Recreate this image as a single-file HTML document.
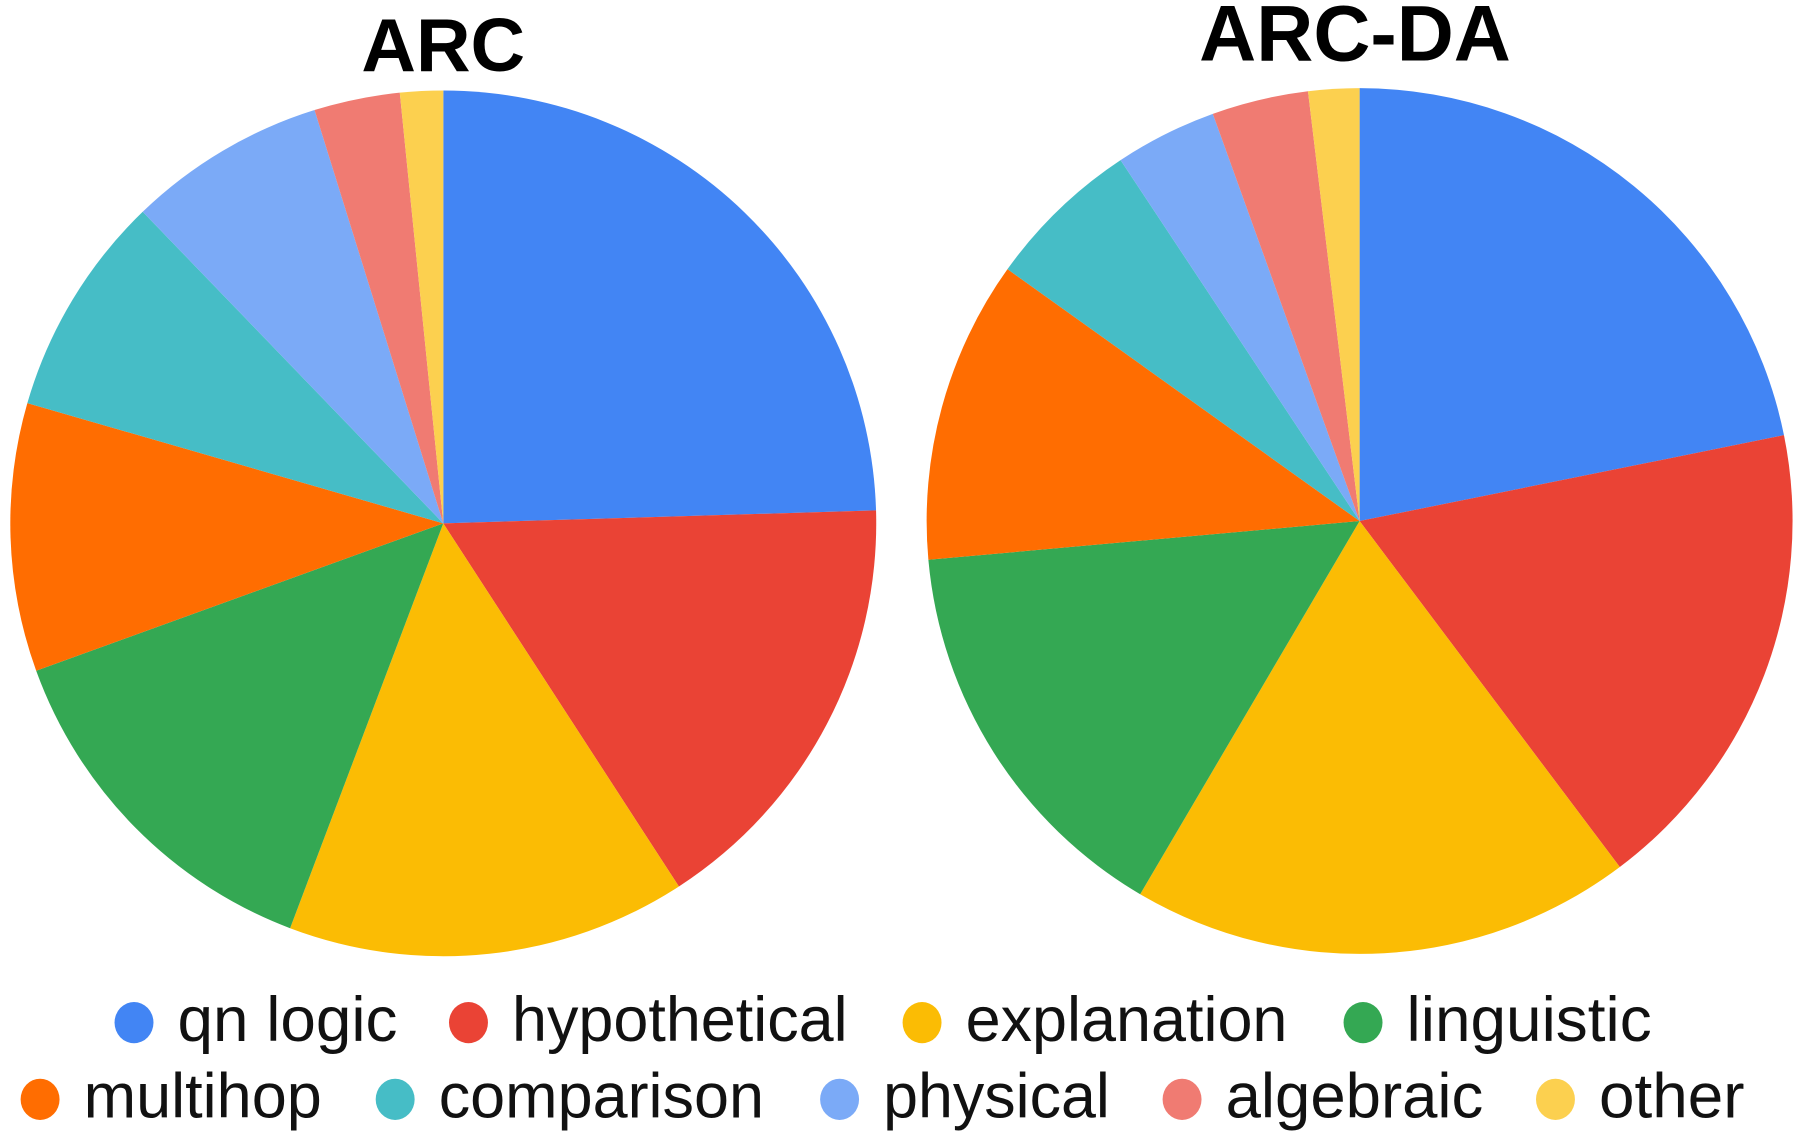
<!DOCTYPE html>
<html><head><meta charset="utf-8"><style>
html,body{margin:0;padding:0;background:#fff;}
svg{display:block;}
</style></head><body>
<svg id="chart" width="1796" height="1136" viewBox="0 0 1568 992" preserveAspectRatio="none" xmlns="http://www.w3.org/2000/svg">
<text x="387" y="62" text-anchor="middle" font-family="Liberation Sans, sans-serif" font-weight="bold" font-size="66" fill="#000">ARC</text>
<text x="1183" y="53" text-anchor="middle" font-family="Liberation Sans, sans-serif" font-weight="bold" font-size="69" fill="#000">ARC-DA</text>
<g id="pies"></g>
<g id="legend"></g>
</svg>
<script>
const categories = ["qn logic","hypothetical","explanation","linguistic","multihop","comparison","physical","algebraic","other"];
const arcValues = [24.5, 16.3, 14.9, 13.7, 10.0, 8.3, 7.4, 3.2, 1.6];
const arcDaValues = [21.8, 17.9, 18.7, 15.1, 11.3, 5.8, 3.8, 3.6, 1.9];
const colors = ["#4285f4","#ea4335","#fbbc04","#34a853","#ff6d01","#46bdc6","#7baaf7","#f07b72","#fcd04f"];
const NS = "http://www.w3.org/2000/svg";
function drawPie(values, cx, cy, r, name){
  const g = document.getElementById('pies');
  const total = values.reduce((a,b)=>a+b,0);
  let a0 = 0;
  values.forEach((v,i)=>{
    const a1 = a0 + v/total*2*Math.PI;
    const x0 = cx + r*Math.sin(a0), y0 = cy - r*Math.cos(a0);
    const x1 = cx + r*Math.sin(a1), y1 = cy - r*Math.cos(a1);
    const large = (a1-a0) > Math.PI ? 1 : 0;
    const p = document.createElementNS(NS,'path');
    p.setAttribute('d',`M${cx},${cy} L${x0},${y0} A${r},${r} 0 ${large} 1 ${x1},${y1} Z`);
    p.setAttribute('fill',colors[i]);
    
    
    g.appendChild(p);
    a0 = a1;
  });
}
drawPie(arcValues, 387, 457, 378, 'arc');
drawPie(arcDaValues, 1187, 455, 378, 'arc-da');
const legendDotX = [117,409,805,1190,35,345,733,1032,1358];
const legendRow = [0,0,0,0,1,1,1,1,1];
const legendWidths = [192,293,281,214,208,284,198,225,127];
const lg = document.getElementById('legend');
categories.forEach((c,i)=>{
  const y = legendRow[i] ? 960 : 893;
  const dot = document.createElementNS(NS,'ellipse');
  dot.setAttribute('cx',legendDotX[i]); dot.setAttribute('cy',y);
  dot.setAttribute('rx',17); dot.setAttribute('ry',18);
  dot.setAttribute('fill',colors[i]);
  
  
  lg.appendChild(dot);
  const t = document.createElementNS(NS,'text');
  t.setAttribute('x',legendDotX[i]+38); t.setAttribute('y',y+16);
  t.setAttribute('font-family','Liberation Sans, sans-serif');
  t.setAttribute('font-size','55');
  t.setAttribute('fill','#111');
  t.setAttribute('textLength',legendWidths[i]);
  t.setAttribute('lengthAdjust','spacingAndGlyphs');
  t.textContent = c;
  
  
  lg.appendChild(t);
});
</script>
</body></html>
